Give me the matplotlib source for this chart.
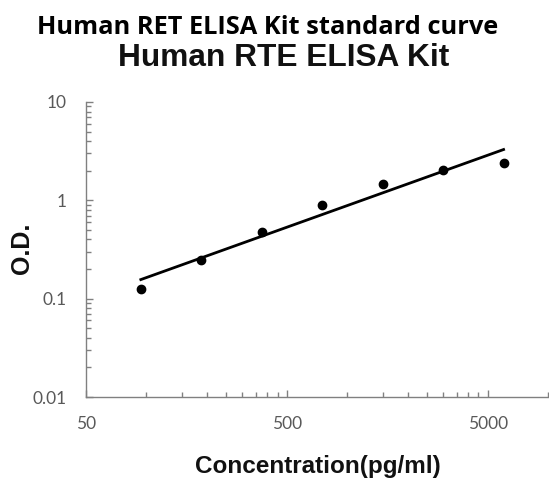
import numpy as np
import matplotlib
matplotlib.use("Agg")
import matplotlib.pyplot as plt
from matplotlib.ticker import LogLocator, FixedLocator, NullFormatter

# standard curve points
concentration = [93.75, 187.5, 375, 750, 1500, 3000, 6000]
od = [0.126, 0.247, 0.48, 0.89, 1.48, 2.05, 2.41]

x_ticks = [50, 500, 5000]
y_ticks = [0.01, 0.1, 1, 10]
y_tick_labels = ["0.01", "0.1", "1", "10"]

fig = plt.figure(figsize=(5.49, 4.80), dpi=100)
ax = fig.add_axes([86 / 549, 83 / 480, 1 - 86 / 549, 295 / 480])

ax.set_xscale("log")
ax.set_yscale("log")
ax.set_xlim(50, 10100)
ax.set_ylim(0.01, 10)

# power trendline (linear fit in log-log space)
lx, ly = np.log10(concentration), np.log10(od)
slope, intercept = np.polyfit(lx, ly, 1)
fit_x = np.array([concentration[0], concentration[-1]])
fit_y = 10 ** (intercept + slope * np.log10(fit_x))
ax.plot(fit_x, fit_y, color="black", linewidth=2, zorder=2)
ax.plot(concentration, od, "o", color="black", markersize=6, zorder=3)

# Excel-style log axes: majors at 50, 500, 5000 with minors at multiples of 50
minor_x = [m * 50 * 10 ** d for d in range(0, 3) for m in range(2, 10)]
ax.xaxis.set_major_locator(FixedLocator(x_ticks))
ax.xaxis.set_minor_locator(FixedLocator(minor_x))
ax.set_xticklabels([str(t) for t in x_ticks])
ax.yaxis.set_major_locator(FixedLocator(y_ticks))
ax.yaxis.set_minor_locator(LogLocator(base=10, subs=np.arange(2, 10)))
ax.yaxis.set_minor_formatter(NullFormatter())
ax.xaxis.set_minor_formatter(NullFormatter())
ax.set_yticklabels(y_tick_labels)

tick_gray = "#595959"
ax.tick_params(which="both", direction="in", color="#808080", width=1)
ax.tick_params(which="major", length=5)
ax.tick_params(which="minor", length=3.5)
ax.tick_params(axis="x", which="major", pad=14)
ax.tick_params(axis="y", which="major", pad=14)
for lab in ax.get_xticklabels() + ax.get_yticklabels():
    lab.set_fontfamily("Lato")
    lab.set_fontsize(12.5)
    lab.set_color(tick_gray)

for side in ["top", "right"]:
    ax.spines[side].set_visible(False)
for side in ["left", "bottom"]:
    ax.spines[side].set_color("#808080")
    ax.spines[side].set_linewidth(1)

ax.set_xlabel("Concentration(pg/ml)", fontsize=17.5, fontweight="bold",
              family="Liberation Sans", labelpad=16, color="#111111")
fig.text(22 / 549, 1 - 248 / 480, "O.D.", rotation=90, fontsize=18, fontweight="bold",
         family="Liberation Sans", ha="center", va="center", color="#111111")

fig.text(284 / 549, 1 - 58 / 480, "Human RTE ELISA Kit", fontsize=22.8, fontweight="bold",
         family="Liberation Sans", ha="center", va="center", color="#111111")
fig.text(268 / 549, 1 - 27 / 480, "Human RET ELISA Kit standard curve", fontsize=18.3,
         fontweight="bold", family="Open Sans", ha="center", va="center", color="black")

fig.savefig("out.png", dpi=100)
